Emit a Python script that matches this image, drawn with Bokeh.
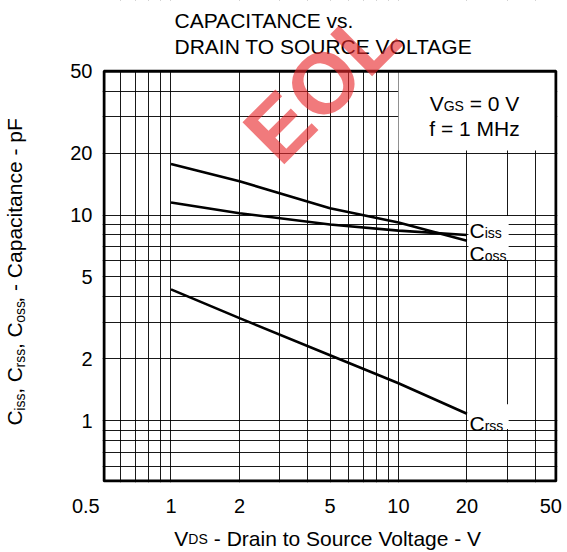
import math
from bokeh.plotting import figure
from bokeh.models import FixedTicker, Label, BoxAnnotation, BasicTickFormatter, LogAxis
from bokeh.embed import file_html
from bokeh.resources import INLINE

# ---- data ----
vds = [1, 2, 5, 10, 20]
ciss = [11.5, 10.2, 9.0, 8.4, 8.0]
coss = [17.7, 14.6, 10.8, 9.2, 7.5]
crss = [4.35, 3.15, 2.08, 1.52, 1.08]

x_ticks = [0.5, 1, 2, 5, 10, 20, 50]
y_ticks = [1, 2, 5, 10, 20, 50]
grid_ticks = [0.6, 0.7, 0.8, 0.9, 1, 2, 3, 4, 5, 6, 7, 8, 9, 10, 20, 30, 40]

FONT = "Liberation Sans"
MAIN = 21
SUB = 14
MID = 0.3465   # baseline offset below the text-box middle, in em
NB = "\u00a0"

AW = {'C': .722, 'i': .222, 's': .5, ',': .278, ' ': .278, 'r': .333, 'o': .556,
      '-': .333, 'a': .556, 'p': .556, 'c': .5, 't': .278, 'n': .556, 'e': .556,
      'F': .611, 'V': .667, 'D': .722, 'S': .667, 'G': .778, '=': .584, '0': .556,
      '1': .556, 'f': .278, 'M': .833, 'H': .722, 'z': .5, 'l': .222, 'g': .556,
      'u': .556, 'h': .556}


def tw(s, size):
    return sum(AW.get(ch, .556) for ch in s) * size


# ---- geometry of the chart box (pixels) ----
W, H = 567, 552
L, R, T, B = 101, 557, 72, 490          # chart box edges
XPD = (R - L) / 2.0                      # px per decade (x)
YPD = (B - T) / 2.0                      # px per decade (y)
y_top = 50 * 10 ** (T / YPD)             # frame reaches the canvas top


def xdata(px):
    return 0.5 * 10 ** ((px - L) / XPD)


def ydata(py):
    return 0.5 * 10 ** ((B - py) / YPD)


p = figure(width=W, height=H, x_axis_type="log", y_axis_type="log",
           x_range=(0.5, 50), y_range=(0.5, y_top), output_backend="svg",
           toolbar_location=None, min_border_left=L, min_border_right=W - R,
           min_border_top=0, min_border_bottom=H - B)
p.background_fill_color = "white"
p.border_fill_color = "white"
p.outline_line_color = None

for g in (p.xgrid[0], p.ygrid[0]):
    g.ticker = FixedTicker(ticks=grid_ticks)
    g.grid_line_color = "black"
    g.grid_line_width = 1
    g.grid_line_alpha = 0.9


def style_axis(ax, ticks, size, standoff):
    ax.ticker = FixedTicker(ticks=ticks, minor_ticks=[])
    ax.major_tick_in = 0
    ax.major_tick_out = 0
    ax.minor_tick_in = 0
    ax.minor_tick_out = 0
    ax.axis_line_color = None
    ax.major_label_text_font = FONT
    ax.major_label_text_font_size = f"{size}px"
    ax.major_label_text_color = "black"
    ax.major_label_standoff = standoff


style_axis(p.xaxis[0], x_ticks, 20, 12)
p.xaxis[0].formatter = BasicTickFormatter()
p.xaxis[0].major_label_overrides = {0.5: "0.5" + NB * 6, 50: "50" + NB}
style_axis(p.yaxis[0], y_ticks, 20, 10)
p.yaxis[0].formatter = BasicTickFormatter()

# white areas that hide the grid: above the chart box, condition box, curve labels
for l, r, b, t in ((None, None, 50, None), (10, None, 20.6, 50),
                   (20.3, 30.5, 6.05, 9.9), (20.3, 30.5, 0.91, 1.2)):
    p.add_layout(BoxAnnotation(left=l, right=r, bottom=b, top=t, fill_color="white",
                               fill_alpha=1, line_color=None, level="underlay"))
# chart box border
p.add_layout(BoxAnnotation(left=xdata(L + 1.5), right=xdata(R - 1.5), bottom=ydata(B - 1.5),
                           top=50, fill_alpha=0, fill_color=None, line_color="black",
                           line_alpha=1, line_width=3, level="overlay"))

for ys in (ciss, coss, crss):
    p.line(vds, ys, line_color="black", line_width=2.6)


def lab(text, x, y, size, angle=0.0, align="left", color="black", style="normal",
        alpha=1.0, baseline_given=True):
    if baseline_given:
        y -= MID * size
    p.add_layout(Label(x=x, y=y, x_units="canvas", y_units="canvas", text=text,
                       text_font=FONT, text_font_size=f"{size}px", angle=angle,
                       text_align=align, text_baseline="middle", text_color=color,
                       text_font_style=style, text_alpha=alpha, level="overlay"))


def run(pieces, x, y):
    for txt, size in pieces:
        lead = len(txt) - len(txt.lstrip(" "))
        lab(txt.strip(" "), x + tw(" " * lead, size), y, size)
        x += tw(txt, size)


def centers(pieces, start, sign):
    """pixel centre of every (stripped) piece laid out along a line"""
    out = []
    pos = start
    for txt, size in pieces:
        lead = len(txt) - len(txt.lstrip(" "))
        core = txt.strip(" ")
        c0 = pos + sign * tw(" " * lead, size)
        out.append((core, size, c0 + sign * tw(core, size) / 2))
        pos += sign * tw(txt, size)
    return out


def title_axes(pieces, start, sign, side, sub_standoff, main_standoff):
    items = centers(pieces, start, sign)
    conv = xdata if side == "below" else ydata
    for size, standoff in ((SUB, sub_standoff), (MAIN, main_standoff)):
        sel = [(conv(c), t) for t, s, c in items if s == size]
        ax = LogAxis()
        style_axis(ax, [v for v, _ in sel], size, standoff)
        ax.major_label_overrides = {v: t for v, t in sel}
        if side == "left":
            ax.major_label_orientation = "vertical"
        p.add_layout(ax, side)


# axis titles (extra axes carrying the text pieces)
title_axes([("V", MAIN), ("DS", SUB), (" - Drain to Source Voltage - V", MAIN)],
           173, +1, "below", 11, -23)
title_axes([("C", MAIN), ("iss", SUB), (", ", MAIN), ("C", MAIN), ("rss", SUB), (", ", MAIN),
            ("C", MAIN), ("oss", SUB), (", - Capacitance - pF", MAIN)],
           432, -1, "left", 39, -17)

# title
lab("CAPACITANCE vs.", 174, 27.5, MAIN)
lab("DRAIN TO SOURCE VOLTAGE", 174, 53.5, MAIN)

# condition box
vgs = [("V", MAIN), ("GS", SUB), (" = 0 V", MAIN)]
w = sum(tw(t, s) for t, s in vgs)
run(vgs, 474 - w / 2, 110.5)
lab("f = 1 MHz", 474 - tw("f = 1 MHz", MAIN) / 2, 135.5, MAIN)

# curve labels
run([("C", MAIN), ("iss", SUB)], 469, 237.5)
run([("C", MAIN), ("oss", SUB)], 469, 260.5)
run([("C", MAIN), ("rss", SUB)], 469, 430.5)

# EOL watermark
lab("EOL", 321, 84, 86, angle=math.pi / 4, align="center", color="#e8282b",
    style="bold", alpha=0.62, baseline_given=False)

open("out.html", "w").write(file_html(p, INLINE))
